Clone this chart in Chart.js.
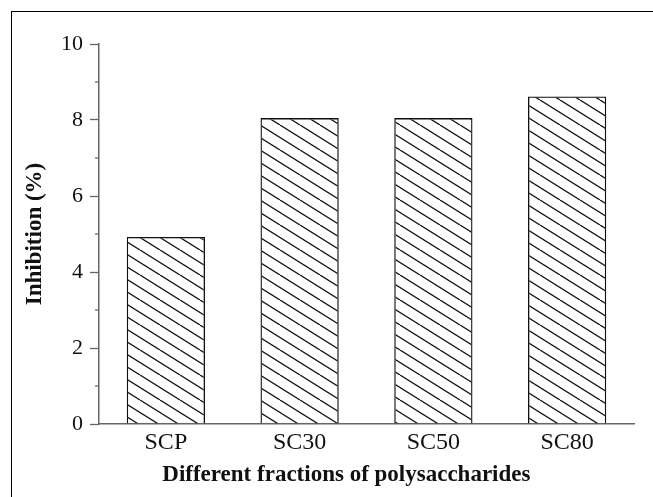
<!DOCTYPE html>
<html>
<head>
<meta charset="utf-8">
<script src="https://cdn.jsdelivr.net/npm/chart.js@4.4.1/dist/chart.umd.min.js"></script>
<style>
    html, body { margin: 0; padding: 0; background: #fff; overflow: hidden; }
    #wrap { position: relative; width: 653px; height: 497px; }
    #frame { position: absolute; left: 11px; top: 11px; right: 0; bottom: 0;
             border-left: 1.5px solid #000; border-top: 1.5px solid #000; pointer-events: none; }
    canvas { position: absolute; left: 0; top: 0; }
</style>
</head>
<body>
<div id="wrap">
    <canvas id="chart" width="653" height="497"></canvas>
    <div id="frame"></div>
</div>
<script>
const fractions = ['SCP', 'SC30', 'SC50', 'SC80'];
const inhibition = [4.92, 8.05, 8.05, 8.62];

const serif = "'Liberation Serif', 'Times New Roman', serif";
const axisColor = '#666';

// diagonal hatch like the original bars
function makeHatch() {
    const c = document.createElement('canvas');
    c.width = 40;
    c.height = 25;
    const g = c.getContext('2d');
    g.strokeStyle = '#111';
    g.lineWidth = 1.3;
    for (let k = -3; k <= 2; k++) {
        g.beginPath();
        g.moveTo(k * 20, 0);
        g.lineTo(k * 20 + 40, 25);
        g.stroke();
    }
    return g.createPattern(c, 'repeat');
}

// short ticks at the odd values
const minorTicks = {
    id: 'minorTicks',
    afterDraw(chart) {
        const y = chart.scales.y;
        const ctx = chart.ctx;
        ctx.save();
        ctx.strokeStyle = axisColor;
        ctx.lineWidth = 1.3;
        y.ticks.forEach(t => {
            if (t.value % 2 === 0) return;
            const py = y.getPixelForValue(t.value);
            ctx.beginPath();
            ctx.moveTo(y.right - 4, py);
            ctx.lineTo(y.right, py);
            ctx.stroke();
        });
        ctx.restore();
    }
};

const ctx = document.getElementById('chart').getContext('2d');

new Chart(ctx, {
    type: 'bar',
    data: {
        labels: fractions,
        datasets: [{
            data: inhibition,
            backgroundColor: makeHatch(),
            borderColor: '#111',
            borderWidth: 1.3,
            barPercentage: 0.585,
            categoryPercentage: 1.0
        }]
    },
    options: {
        responsive: false,
        animation: false,
        layout: {
            padding: { left: 0, top: 44, right: 19, bottom: 0 }
        },
        plugins: {
            legend: { display: false },
            tooltip: { enabled: false }
        },
        scales: {
            x: {
                grid: { display: false, drawTicks: false },
                border: { display: true, color: axisColor, width: 1.5 },
                ticks: {
                    color: '#111',
                    padding: 4,
                    font: { family: serif, size: 24 }
                },
                title: {
                    display: true,
                    // trailing spaces nudge the centred title left, as in the original
                    text: 'Different fractions of polysaccharides\u00a0\u00a0\u00a0\u00a0\u00a0\u00a0\u00a0',
                    color: '#111',
                    font: { family: serif, size: 23, weight: 'bold' },
                    padding: { top: 0, bottom: 8 }
                },
                afterFit(scale) { scale.height = 73; }
            },
            y: {
                min: 0,
                max: 10,
                grid: {
                    drawOnChartArea: false,
                    tickLength: 9,
                    tickWidth: 1.3,
                    tickColor: c => (c.tick && c.tick.value % 2 === 0) ? axisColor : 'rgba(0,0,0,0)'
                },
                border: { display: true, color: axisColor, width: 1.5 },
                ticks: {
                    stepSize: 1,
                    color: '#111',
                    padding: 7,
                    font: { family: serif, size: 22 },
                    callback: v => (v % 2 === 0 ? v : '')
                },
                title: {
                    display: true,
                    text: 'Inhibition (%)',
                    color: '#111',
                    font: { family: serif, size: 23, weight: 'bold' },
                    padding: { top: 21, bottom: 0 }
                },
                afterFit(scale) { scale.width = 99; }
            }
        }
    },
    plugins: [minorTicks]
});
</script>
</body>
</html>
